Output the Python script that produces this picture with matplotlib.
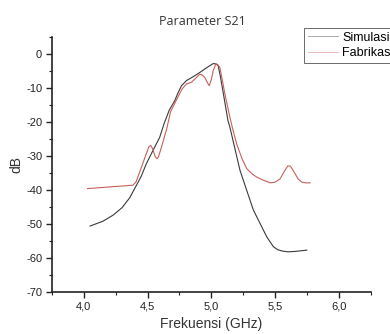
import numpy as np
import matplotlib
matplotlib.use("Agg")
from matplotlib import pyplot as plt
from matplotlib.ticker import MultipleLocator

plt.rcParams["axes.unicode_minus"] = False

# S21 data (GHz, dB)
sim_freq = [4.05, 4.15, 4.23, 4.30, 4.36, 4.40, 4.45, 4.49, 4.55, 4.595, 4.63, 4.67,
            4.713, 4.74, 4.766, 4.805, 4.86, 4.91, 4.96, 5.014, 5.035, 5.053, 5.07,
            5.09, 5.13, 5.145, 5.224, 5.329, 5.434, 5.486, 5.52, 5.56, 5.60, 5.65,
            5.70, 5.748]
sim_db = [-50.6, -49.2, -47.4, -45.2, -42.3, -39.5, -36.0, -32.3, -27.8, -24.5, -20.4, -16.5,
          -13.7, -11.3, -9.3, -7.8, -6.6, -5.4, -4.1, -2.8, -2.9, -3.4, -6.5,
          -10.8, -19.6, -21.5, -34.2, -45.9, -53.8, -56.7, -57.6, -58.0, -58.2, -58.1,
          -57.9, -57.7]

fab_freq = [4.03, 4.20, 4.385, 4.41, 4.45, 4.49, 4.51, 4.525, 4.54, 4.56, 4.574, 4.585,
            4.60, 4.65, 4.68, 4.737, 4.77, 4.805, 4.844, 4.88, 4.91, 4.93, 4.949, 4.97,
            4.983, 5.0, 5.014, 5.035, 5.05, 5.066, 5.085, 5.105, 5.145, 5.17, 5.198,
            5.24, 5.277, 5.32, 5.355, 5.40, 5.46, 5.50, 5.539, 5.575, 5.60, 5.62,
            5.656, 5.68, 5.709, 5.74, 5.774]
fab_db = [-39.6, -39.1, -38.6, -37.6, -33.5, -29.3, -27.3, -26.9, -27.9, -30.2, -30.8, -30.3,
          -28.5, -22.0, -17.0, -12.7, -10.3, -8.8, -8.3, -7.0, -5.9, -6.2, -6.9, -8.5,
          -9.3, -7.5, -4.9, -2.9, -3.1, -3.9, -7.5, -11.6, -18.6, -22.5, -26.4,
          -30.8, -33.7, -35.3, -36.2, -37.0, -37.9, -37.7, -36.7, -34.3, -32.9, -33.0,
          -35.2, -36.8, -37.7, -37.9, -37.9]

x_ticks = [4.0, 4.5, 5.0, 5.5, 6.0]
x_labels = ["4,0", "4,5", "5,0", "5,5", "6,0"]
y_ticks = [0, -10, -20, -30, -40, -50, -60, -70]

fig = plt.figure(figsize=(3.9, 3.34), dpi=100)
ax = fig.add_axes([0.133, 0.126, 0.818, 0.763])

ax.plot(sim_freq, sim_db, color="#3a3a3a", lw=0.8, label="Simulasi")
ax.plot(fab_freq, fab_db, color="#c8605a", lw=0.8, label="Fabrikasi")

ax.set_xlim(3.75, 6.25)
ax.set_ylim(-70, 5)
ax.set_xticks(x_ticks)
ax.set_xticklabels(x_labels)
ax.set_yticks(y_ticks)
ax.xaxis.set_minor_locator(MultipleLocator(0.25))
ax.yaxis.set_minor_locator(MultipleLocator(5))

for side in ["top", "right"]:
    ax.spines[side].set_visible(False)
for side in ["left", "bottom"]:
    ax.spines[side].set_linewidth(1.2)
    ax.spines[side].set_color("#222222")

ax.tick_params(which="major", length=4, width=1, direction="out", labelsize=8,
               colors="#222222", pad=3)
ax.tick_params(which="minor", length=2, width=0.8, direction="out", colors="#222222")
for lab in ax.get_xticklabels() + ax.get_yticklabels():
    lab.set_family("Liberation Sans")

ax.set_xlabel("Frekuensi (GHz)", family="Liberation Sans", fontsize=10, color="#333333",
              labelpad=4)
ax.set_ylabel("dB", family="Liberation Sans", fontsize=10, color="#333333", labelpad=2)

fig.text(0.518, 0.937, "Parameter S21", ha="center", va="center",
         family="Open Sans", fontsize=9, color="#333333")

leg = fig.legend(loc="upper left", bbox_to_anchor=(0.779, 0.916),
                 frameon=True, fancybox=False, handlelength=2.4, handletextpad=0.35,
                 borderpad=0.3, labelspacing=0.25, borderaxespad=0,
                 prop={"family": "Liberation Sans", "size": 9})
leg.get_frame().set_edgecolor("#444444")
leg.get_frame().set_linewidth(0.7)
for line in leg.get_lines():
    line.set_linewidth(0.5)
    line.set_alpha(0.6)

fig.savefig("out.png", dpi=100)
